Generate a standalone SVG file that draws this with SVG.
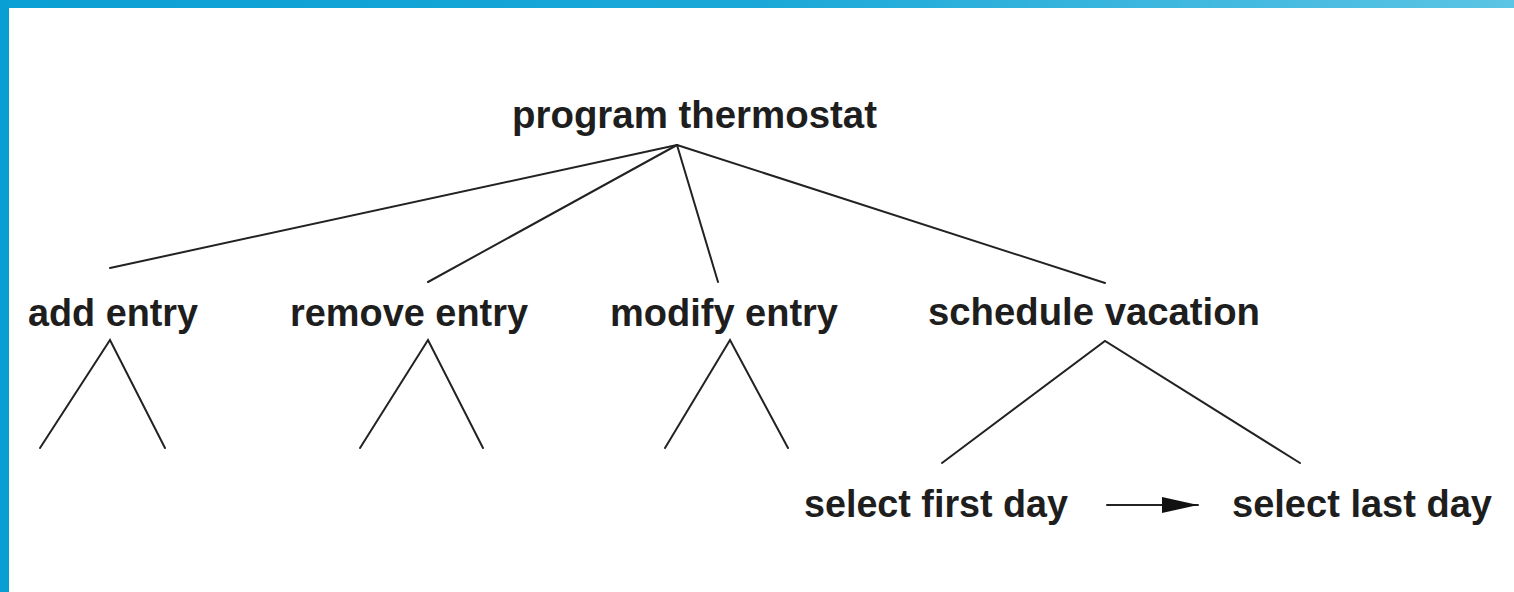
<svg xmlns="http://www.w3.org/2000/svg" width="1514" height="592" viewBox="0 0 1514 592">
<style>
.lbl{font-family:"Liberation Sans",Arial,Helvetica,sans-serif;font-weight:bold;font-size:38px;fill:#1e1e1e;}
.edge{stroke:#222;stroke-width:2;fill:none;stroke-linecap:round;}
</style>
<defs>
<linearGradient id="topband" x1="0" y1="0" x2="1" y2="0">
<stop offset="0" stop-color="#0a9fd4"/>
<stop offset="0.5" stop-color="#1aa8d8"/>
<stop offset="1" stop-color="#5cc4e4"/>
</linearGradient>
<marker id="arrow" viewBox="0 0 36 16" refX="36" refY="8" markerWidth="36" markerHeight="16" markerUnits="userSpaceOnUse" orient="auto">
<path d="M0,0 L36,8 L0,16 Z" fill="#111"/>
</marker>
</defs>
<rect x="0" y="0" width="1514" height="592" fill="#ffffff"/>
<rect x="0" y="0" width="1514" height="8" fill="url(#topband)"/>
<rect x="0" y="0" width="9" height="592" fill="#0a9fd4"/>

<g id="connectors">
<line class="edge" x1="677" y1="145" x2="110" y2="268"/>
<line class="edge" x1="677" y1="145" x2="428" y2="282"/>
<line class="edge" x1="677" y1="145" x2="718" y2="282"/>
<line class="edge" x1="677" y1="145" x2="1105" y2="283"/>
<polyline class="edge" points="40,448 110,340 165,448"/>
<polyline class="edge" points="360,448 428,340 483,448"/>
<polyline class="edge" points="665,448 730,340 788,448"/>
<polyline class="edge" points="942,463 1105,341 1300,463"/>
<line class="edge" x1="1107" y1="505" x2="1198" y2="505" marker-end="url(#arrow)"/>
</g>

<g id="program-thermostat"><text class="lbl" x="512" y="128" textLength="365" lengthAdjust="spacingAndGlyphs">program thermostat</text></g>
<g id="add-entry"><text class="lbl" x="28" y="326" textLength="170" lengthAdjust="spacingAndGlyphs">add entry</text></g>
<g id="remove-entry"><text class="lbl" x="290" y="326" textLength="238" lengthAdjust="spacingAndGlyphs">remove entry</text></g>
<g id="modify-entry"><text class="lbl" x="610" y="326" textLength="228" lengthAdjust="spacingAndGlyphs">modify entry</text></g>
<g id="schedule-vacation"><text class="lbl" x="928" y="325" textLength="332" lengthAdjust="spacingAndGlyphs">schedule vacation</text></g>
<g id="select-first-day"><text class="lbl" x="804" y="517" textLength="264" lengthAdjust="spacingAndGlyphs">select first day</text></g>
<g id="select-last-day"><text class="lbl" x="1232" y="517" textLength="260" lengthAdjust="spacingAndGlyphs">select last day</text></g>
</svg>
